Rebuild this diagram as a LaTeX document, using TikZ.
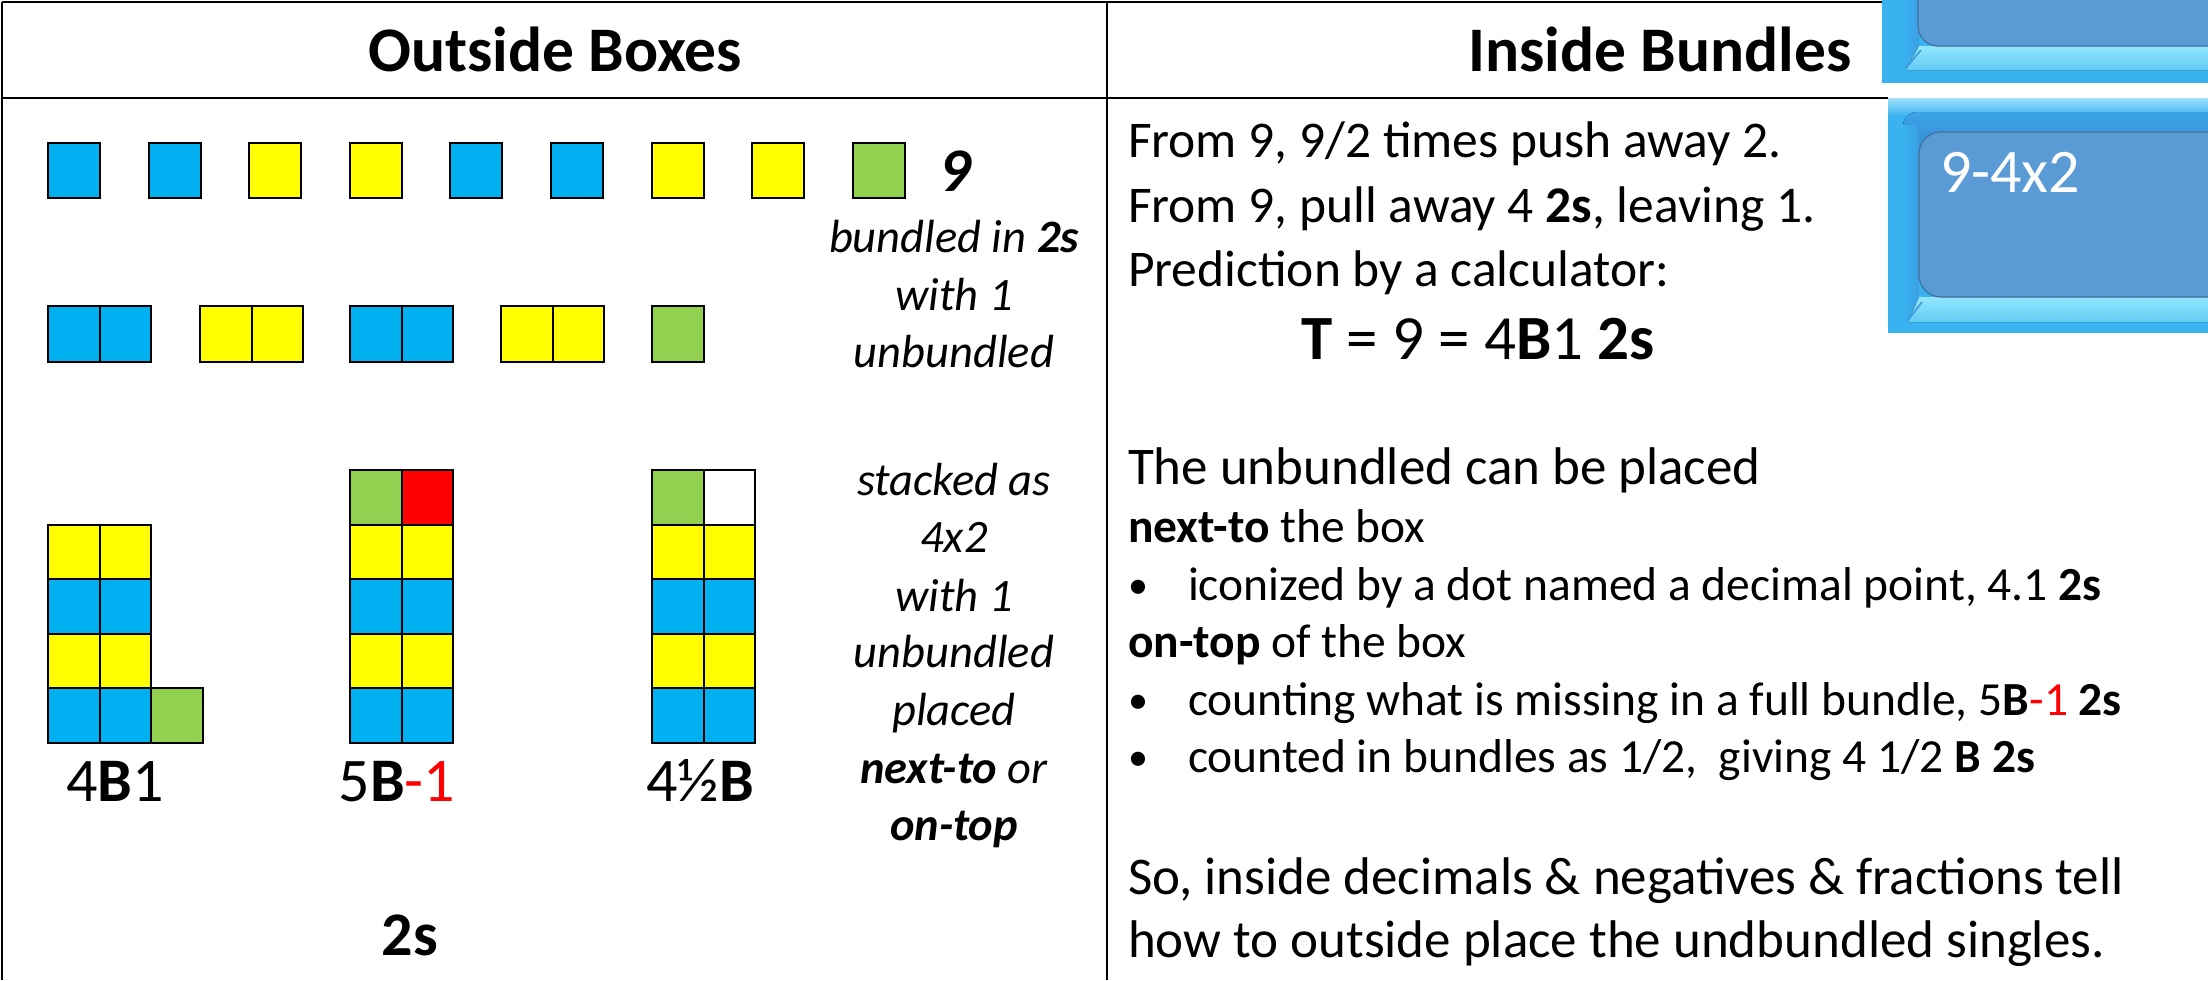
\documentclass[tikz,border=0pt]{standalone}
\usepackage{fontspec}
\setmainfont{Carlito}
\definecolor{cellblue}{HTML}{00B0F0}
\definecolor{cellyellow}{HTML}{FFFF00}
\definecolor{cellgreen}{HTML}{92D050}
\definecolor{cellred}{HTML}{FF0000}
\definecolor{calcouter}{HTML}{3AB2F0}
\definecolor{calcinner}{HTML}{5B9BD5}
\definecolor{calcedge}{HTML}{41719C}
\definecolor{calclight}{HTML}{92E6FA}
\definecolor{calcmid}{HTML}{62CCF6}
\definecolor{calcshadow}{HTML}{3A8CD6}

\newcommand\szHead{\fontsize{63.5}{76}\selectfont}
\newcommand\szBody{\fontsize{53}{64}\selectfont}
\newcommand\szTop{\fontsize{51.5}{62}\selectfont}
\newcommand\szSmall{\fontsize{47.5}{58}\selectfont}
\newcommand\szNote{\fontsize{46.5}{57}\selectfont}
\newcommand\szLabel{\fontsize{62}{74}\selectfont}
\newcommand\szBullet{\fontsize{40}{48}\selectfont}

\begin{document}
\begin{tikzpicture}[x=1pt,y=-1pt,
  cell/.style={draw=black,line width=2pt},
  rule/.style={draw=black,line width=2.6pt},
  txt/.style={inner sep=0pt,outer sep=0pt,anchor=base west},
  ctxt/.style={inner sep=0pt,outer sep=0pt,anchor=base},
  note/.style={ctxt,font=\szNote\itshape},
  line/.style={txt,font=\szBody},
  topline/.style={txt,font=\szTop},
  small/.style={txt,font=\szSmall},
  bullet/.style={txt,font=\szBullet},
]
\useasboundingbox (0,0) rectangle (2208,980);

% ---- table rules ----
\draw[rule] (2,2) -- (1882,2);
\draw[rule] (2,2) -- (2,980);
\draw[rule] (2,98) -- (1888,98);
\draw[rule] (1107,2) -- (1107,980);

% ---- headers ----
\node[ctxt] (hdL) at (555,71) {\szHead\bfseries Outside Boxes};
\node[ctxt] (hdR) at (1660,71) {\szHead\bfseries Inside Bundles};

% ---- nine singles ----
\foreach \c [count=\i from 0] in {cellblue,cellblue,cellyellow,cellyellow,cellblue,cellblue,cellyellow,cellyellow,cellgreen}
  \path[cell,fill=\c] ({48+100.6*\i},143) rectangle ++(52,55);
\node[ctxt] (nine) at (955,191) {\szLabel\bfseries\itshape 9};

% ---- bundled in pairs ----
\foreach \x/\c in {48/cellblue,200/cellyellow,350/cellblue,501/cellyellow}{
  \path[cell,fill=\c] (\x,306) rectangle ++(51.5,56);
  \path[cell,fill=\c] ({\x+51.5},306) rectangle ++(51.5,56);
}
\path[cell,fill=cellgreen] (652,306) rectangle ++(51.5,56);

\node[note] (n1) at (954,252) {bundled in \textbf{2s}};
\node[note] (n2) at (954,310) {with 1};
\node[note] (n3) at (954,367) {unbundled};

% ---- stacks of 4x2 ----
\foreach \x in {48,350,652}{
  \foreach \r/\c in {0/cellyellow,1/cellblue,2/cellyellow,3/cellblue}{
    \path[cell,fill=\c] (\x,{524.5+54.5*\r}) rectangle ++(51.5,54.5);
    \path[cell,fill=\c] ({\x+51.5},{524.5+54.5*\r}) rectangle ++(51.5,54.5);
  }
}
% unbundled single: next-to
\path[cell,fill=cellgreen] (151,688) rectangle ++(51.5,54.5);
% unbundled single: on-top, missing one
\path[cell,fill=cellgreen] (350,470) rectangle ++(51.5,54.5);
\path[cell,fill=cellred] (401.5,470) rectangle ++(51.5,54.5);
% unbundled single: on-top, half bundle
\path[cell,fill=cellgreen] (652,470) rectangle ++(51.5,54.5);
\path[cell,fill=white] (703.5,470) rectangle ++(51.5,54.5);

\node[ctxt] (lab1) at (115,801) {\szLabel 4\textbf{B}1};
\node[ctxt] (lab2) at (397,801) {\szLabel 5\textbf{B}\textcolor{cellred}{-1}};
\node[ctxt] (lab3) at (700,801) {\szLabel 4½\textbf{B}};
\node[ctxt] (unit) at (410,955) {\szLabel\bfseries 2s};

\node[note] (s1) at (954,495) {stacked as};
\node[note] (s2) at (954,552) {4x2};
\node[note] (s3) at (954,611) {with 1};
\node[note] (s4) at (954,667) {unbundled};
\node[note] (s5) at (954,725) {placed};
\node[note] (s6) at (954,783) {\textbf{next-to} or};
\node[note] (s7) at (954,840) {\textbf{on-top}};

% ---- right column text ----
\node[topline] (r1) at (1128,157) {From 9, 9/2 times push away 2.};
\node[topline] (r2) at (1128,222) {From 9, pull away 4 \textbf{2s}, leaving 1.};
\node[topline] (r3) at (1128,286) {Prediction by a calculator:};
\node[ctxt] (r4) at (1478,359) {\fontsize{63}{75}\selectfont\textbf{T} = 9 = 4\textbf{B}1 \textbf{2s}};

\node[line] (r5) at (1128,484) {The unbundled can be placed};
\node[small] (r6) at (1128,542) {\textbf{next-to} the box};
\node[bullet] (b1) at (1128,598) {•};
\node[small] (r7) at (1188,600) {iconized by a dot named a decimal point, 4.1 \textbf{2s}};
\node[small] (r8) at (1128,657) {\textbf{on-top} of the box};
\node[bullet] (b2) at (1128,713) {•};
\node[small] (r9) at (1188,715) {counting what is missing in a full bundle, 5\textbf{B}\textcolor{cellred}{-1} \textbf{2s}};
\node[bullet] (b3) at (1128,770) {•};
\node[small] (r10) at (1188,772) {counted in bundles as 1/2,\ \ giving 4 1/2 \textbf{B 2s}};

\node[line] (r11) at (1128,894) {So, inside decimals \& negatives \& fractions tell};
\node[line] (r12) at (1128,957) {how to outside place the undbundled singles.};

% ---- calculator display, upper piece ----
\begin{scope}
  \clip (1882,0) rectangle (2208,83);
  \fill[calcouter] (1882,0) rectangle (2208,83);
  \fill[left color=calcouter, right color=calcshadow!50!calcouter] (1903,0) rectangle (1919,66);
  \fill[top color=calclight, bottom color=calcmid] (1919,46) -- (2208,46) -- (2208,70) -- (1906,70) -- cycle;
  \draw[calcshadow!70!calcouter, line width=1.5pt] (1906,68) -- (1921,50);
  \filldraw[fill=calcinner, draw=calcedge, line width=1.2pt, rounded corners=20pt] (1918,-40) rectangle (2260,46);
\end{scope}

% ---- calculator display, lower piece ----
\begin{scope}
  \clip (1888,98) rectangle (2208,333);
  \fill[calcouter] (1888,98) rectangle (2208,333);
  \fill[top color=calcmid!60!white, bottom color=calcouter] (1888,98) rectangle (2208,116);
  \fill[top color=calcshadow!40!calcouter, bottom color=calcshadow, rounded corners=14pt] (1903,112) rectangle (2240,150);
  \fill[left color=calcouter, right color=calcshadow!50!calcouter] (1903,125) rectangle (1919,318);
  \fill[top color=calclight, bottom color=calcmid] (1919,297) -- (2208,297) -- (2208,322) -- (1908,322) -- cycle;
  \draw[calcshadow!70!calcouter, line width=1.5pt] (1908,320) -- (1922,302);
  \filldraw[fill=calcinner, draw=calcedge, line width=1.2pt, rounded corners=22pt] (1919,132) rectangle (2260,297);
  \node[txt, text=white, font=\szLabel] (calc) at (1940,192) {9-4x2};
\end{scope}
\end{tikzpicture}
\end{document}
